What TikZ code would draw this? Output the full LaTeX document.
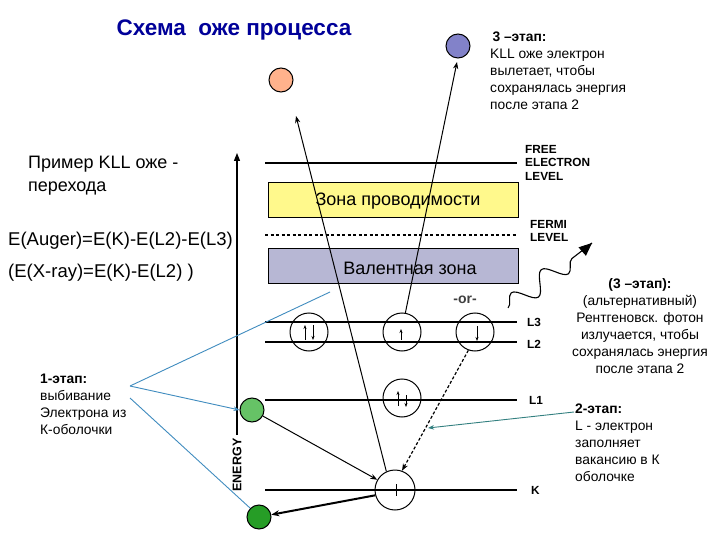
\documentclass[tikz,border=0pt]{standalone}
\usepackage{fontspec}
\setmainfont{Liberation Sans}
\usetikzlibrary{arrows.meta,decorations.pathmorphing}
\begin{document}
\begin{tikzpicture}[x=1pt,y=-1pt,
  txt/.style={font=\fontsize{13.8}{17}\selectfont,inner sep=0pt},
  lvl/.style={line width=1.1pt},
  orb/.style={draw,line width=1pt,circle,minimum size=38pt,inner sep=0pt},
  ball/.style={draw,line width=1pt,circle,minimum size=24pt,inner sep=0pt},
  lab/.style={font=\bfseries\fontsize{11.8}{13.5}\selectfont,anchor=west,inner sep=0pt},
  bl/.style={draw=blue!40!cyan!50!gray,line width=0.9pt},
  sp/.style={-{Stealth[length=4pt]},line width=0.6pt}]
\useasboundingbox (0,0) rectangle (720,540);
\fill[white] (0,0) rectangle (720,540);
\node[font=\bfseries\fontsize{22.5}{24}\selectfont,text=blue!60!black] (title) at (234,30) {Схема\ \ оже процесса};
\node[font=\fontsize{18}{23}\selectfont,align=left,anchor=north west,inner sep=0pt] (ex) at (28,156) {Пример KLL оже -\\перехода};
\node[font=\fontsize{18.5}{20}\selectfont,anchor=west,inner sep=0pt] (f1) at (8,241) {E(Auger)=E(K)-E(L2)-E(L3)};
\node[font=\fontsize{18.5}{20}\selectfont,anchor=west,inner sep=0pt] (f2) at (8,273) {(E(X-ray)=E(K)-E(L2) )};
% axis
\draw[line width=1.2pt,-{Triangle[length=8pt,width=6pt]}] (237,435) coordinate (ax0) -- (237,153) coordinate (ax1);
\node[rotate=90,font=\bfseries\fontsize{12.5}{13}\selectfont] (en) at (237,465) {ENERGY};
% levels
\draw[lvl] (265,163) coordinate (fa) -- (517,163) coordinate (fb);
\node[lab,align=left,anchor=north west] (fel) at (525,145) {FREE\\ELECTRON\\LEVEL};
\node[draw,fill=yellow!45,line width=1pt,minimum width=250pt,minimum height=35pt] (cb) at (393,200) {};
\node[font=\fontsize{18}{20}\selectfont] (cbt) at (398,201) {Зона проводимости};
\draw[line width=1.2pt,dash pattern=on 3pt off 2.5pt] (265,235) coordinate (ea) -- (517,235) coordinate (eb);
\node[lab,align=left,anchor=north west] (fer) at (530,220) {FERMI\\LEVEL};
\node[draw,fill=blue!25!gray!45,line width=1pt,minimum width=250pt,minimum height=35pt] (vb) at (393,266) {};
\node[font=\fontsize{18}{20}\selectfont] (vbt) at (410,268) {Валентная зона};
\node[font=\bfseries\fontsize{14}{15}\selectfont,text=black!75] (or) at (465,300) {-or-};
\draw[lvl] (265,322) -- (517,322); \node[lab] (l3) at (527,322) {L3};
\draw[lvl] (265,342) -- (517,342); \node[lab] (l2) at (527,344) {L2};
\draw[lvl] (265,400) -- (517,400); \node[lab] (l1) at (529,400) {L1};
\draw[lvl] (265,490) -- (517,490); \node[lab] (kk) at (531,490) {K};
\node[orb] (c1) at (309,332) {};
\node[orb] (c2) at (402,332) {};
\node[orb] (c3) at (475,332) {};
\node[orb] (c4) at (402,398) {};
\node[orb,minimum size=40pt] (ck) at (395,490) {};
\draw[sp] (305,340)--(305,325); \draw[sp] (313,325)--(313,340);
\draw[sp] (401,340)--(401,329);
\draw[sp] (477,326)--(477,341);
\draw[sp] (398,406)--(398,391); \draw[sp] (406,395)--(406,407);
\draw[line width=1pt] (396,484)--(396,496);
% balls
\node[ball,fill=red!35!orange!45!white] (sal) at (281,80) {};
\node[ball,fill=blue!40!gray!70] (pur) at (458,46) {};
\node[ball,fill=green!60!black!60] (g1) at (252,410) {};
\node[ball,fill=green!55!black!85] (g2) at (259,517) {};
% trajectories
\draw[line width=1pt,-{Stealth[length=7pt]}] (ck.115) -- (296,116) coordinate (t1);
\draw[line width=1pt,-{Stealth[length=7pt]}] (c2.80) -- (457,62) coordinate (t2);
\draw[line width=1.2pt,dash pattern=on 3pt off 2pt,-{Stealth[length=7pt]}] (c3.250) -- (ck.70);
\draw[line width=1pt,-{Stealth[length=7pt]}] (g1) -- (ck.150);
\draw[line width=2pt,-{Stealth[length=8pt]}] (ck.195) -- (g2);
% wavy photon
\coordinate (w0) at (508,308);
\coordinate (w1) at (592,243);
\draw[line width=1.1pt,decorate,decoration={snake,amplitude=10pt,segment length=38pt,post length=10pt}] (w0) -- (w1);
\draw[line width=1pt,-{Triangle[length=13pt,width=11pt]}] (584,250) -- (w1);
% text blocks
\node[txt,align=left,anchor=north west] (s3) at (490,32) {\textbf{\,3 –этап:}\\KLL оже электрон\\вылетает, чтобы\\сохранялась энергия\\после этапа 2};
\node[txt,align=center,anchor=north] (s3a) at (640,278) {\textbf{(3 –этап):}\\(альтернативный)\\Рентгеновск. фотон\\излучается, чтобы\\сохранялась энергия\\после этапа 2};
\node[txt,align=left,anchor=north west] (s2) at (575,404) {\textbf{2-этап:}\\L - электрон\\заполняет\\вакансию в К\\оболочке};
\node[txt,align=left,anchor=north west] (s1) at (40,374) {\textbf{1-этап:}\\выбивание\\Электрона из\\К-оболочки};
% pointer lines
\coordinate (p1) at (130,386);
\draw[bl] (p1) -- (330,292);
\draw[bl,-{Stealth[length=6pt]}] (p1) -- (g1.west);
\draw[bl] (130,398) -- (g2.north west);
\draw[draw=teal!60!gray,line width=0.9pt,-{Stealth[length=6pt]}] (574,412) -- (428,428);
\end{tikzpicture}
\end{document}
